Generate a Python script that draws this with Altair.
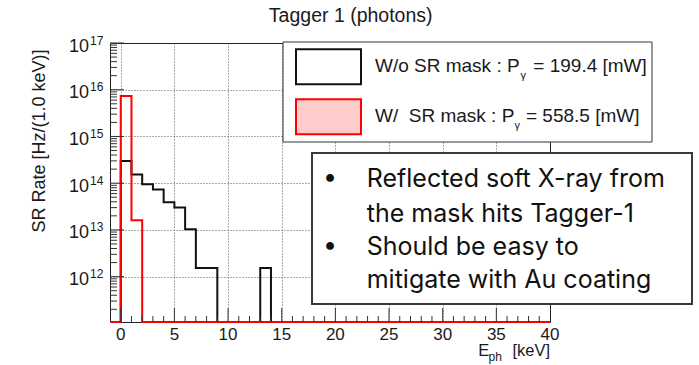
import altair as alt
import pandas as pd

# ---- histogram contents: 1 keV bins, lower edges -1 ... 39 keV ----
bin_lo = [-1, 0, 1, 2, 3, 4, 5, 6, 7, 8, 9, 10, 11, 12, 13, 14, 15, 16, 17, 18, 19,
          20, 21, 22, 23, 24, 25, 26, 27, 28, 29, 30, 31, 32, 33, 34, 35, 36, 37, 38, 39]
x_max = 40

# without SR mask
rate_nomask = [0, 2.99e14, 1.53e14, 9.5e13, 7.3e13, 3.9e13, 3.0e13, 1.03e13, 1.53e12, 1.53e12,
               0, 0, 0, 0, 1.53e12, 0, 0, 0, 0, 0, 0,
               0, 0, 0, 0, 0, 0, 0, 0, 0, 0, 0, 0, 0, 0, 0, 0, 0, 0, 0, 0]
# with SR mask
rate_mask = [0, 7.35e15, 1.61e13, 0, 0, 0, 0, 0, 0, 0,
             0, 0, 0, 0, 0, 0, 0, 0, 0, 0, 0,
             0, 0, 0, 0, 0, 0, 0, 0, 0, 0, 0, 0, 0, 0, 0, 0, 0, 0, 0, 0]

x_ticks_major = [0, 5, 10, 15, 20, 25, 30, 35, 40]
y_exponents = [12, 13, 14, 15, 16, 17]

title = "Tagger 1 (photons)"
y_title = "SR Rate [Hz/(1.0 keV)]"
legend_rows = [
    ("W/o SR mask : P", "= 199.4 [mW]"),
    ("W/\u00a0\u00a0SR mask : P", "= 558.5 [mW]"),
]
note_lines = [
    "Reflected soft X-ray from",
    "the mask hits Tagger-1",
    "Should be easy to",
    "mitigate with Au coating",
]

# ---- geometry ----
W, H = 440, 279
Y_MIN, Y_MAX = 1.07e11, 1e17
RED = "#ff0000"
PINK = "#ffcccc"
INK = "#1a1a1a"
ROOT_FONT = "Liberation Sans"


def step_frame(vals):
    xs = bin_lo + [x_max]
    ys = vals + [vals[-1]]
    return pd.DataFrame({"e": xs, "r": [max(v, Y_MIN) for v in ys]})


xs = alt.Scale(domain=[-1, 40], nice=False, zero=False)
ys = alt.Scale(type="log", domain=[Y_MIN, Y_MAX], nice=False)

x_axis = alt.Axis(values=[0, 5, 10, 15, 20, 25, 30, 35], labels=False, ticks=False,
                  domain=False, title=None, grid=True, gridDash=[1, 2],
                  gridColor="#555555", gridWidth=1)
y_axis = alt.Axis(values=[1e12, 1e13, 1e14, 1e15, 1e16], labels=False, ticks=False,
                  domain=False, title=None, grid=True, gridDash=[1, 2],
                  gridColor="#555555", gridWidth=1)

df_nomask = step_frame(rate_nomask)
df_mask = step_frame(rate_mask)

base_grid = alt.Chart(df_nomask).mark_line(opacity=0).encode(
    x=alt.X("e:Q", scale=xs, axis=x_axis),
    y=alt.Y("r:Q", scale=ys, axis=y_axis),
)

red_fill = alt.Chart(df_mask).mark_area(interpolate="step-after", color=PINK).encode(
    x=alt.X("e:Q", scale=xs), y=alt.Y("r:Q", scale=ys), y2=alt.value(H), order="e:Q"
)
black_line = alt.Chart(df_nomask).mark_line(
    interpolate="step-after", color="#111111", strokeWidth=2
).encode(x=alt.X("e:Q", scale=xs), y=alt.Y("r:Q", scale=ys), order="e:Q")
red_line = alt.Chart(df_mask).mark_line(
    interpolate="step-after", color=RED, strokeWidth=2
).encode(x=alt.X("e:Q", scale=xs), y=alt.Y("r:Q", scale=ys), order="e:Q")

# ---- inside ticks (ROOT style) ----
y_major_v = [10.0 ** e for e in y_exponents]
y_minor_v = [m * 10.0 ** e for e in range(11, 17) for m in range(2, 10)
             if Y_MIN <= m * 10.0 ** e <= Y_MAX]
x_minor_v = [v for v in range(0, 40) if v % 5 != 0]

tick_col = "#333333"
y_major_ticks = alt.Chart(pd.DataFrame({"v": y_major_v})).mark_rule(color=tick_col).encode(
    y=alt.Y("v:Q", scale=ys), x=alt.value(0), x2=alt.value(14))
y_minor_ticks = alt.Chart(pd.DataFrame({"v": y_minor_v})).mark_rule(color=tick_col).encode(
    y=alt.Y("v:Q", scale=ys), x=alt.value(0), x2=alt.value(7))
x_major_ticks = alt.Chart(pd.DataFrame({"v": x_ticks_major[:-1]})).mark_rule(color=tick_col).encode(
    x=alt.X("v:Q", scale=xs), y=alt.value(H), y2=alt.value(H - 14))
x_minor_ticks = alt.Chart(pd.DataFrame({"v": x_minor_v})).mark_rule(color=tick_col).encode(
    x=alt.X("v:Q", scale=xs), y=alt.value(H), y2=alt.value(H - 6))

# ---- tick labels ----
x_labels = alt.Chart(pd.DataFrame({"v": x_ticks_major, "t": [str(v) for v in x_ticks_major]})).mark_text(
    font=ROOT_FONT, fontSize=17, color=INK, align="center", baseline="alphabetic"
).encode(x=alt.X("v:Q", scale=xs), y=alt.value(H + 17.5), text="t:N")

ylab_df = pd.DataFrame({"v": y_major_v, "t": [str(e) for e in y_exponents]})
y_lab_base = alt.Chart(ylab_df).mark_text(
    font=ROOT_FONT, fontSize=18, color=INK, align="right", baseline="alphabetic", dy=8.5
).encode(y=alt.Y("v:Q", scale=ys), x=alt.value(-21), text=alt.value("10"))
y_lab_exp = alt.Chart(ylab_df).mark_text(
    font=ROOT_FONT, fontSize=12, color=INK, align="left", baseline="alphabetic", dy=1.5
).encode(y=alt.Y("v:Q", scale=ys), x=alt.value(-20), text="t:N")

one = pd.DataFrame({"k": [0]})


def txt(s, x, y, size, font=ROOT_FONT, align="left", angle=0, baseline="alphabetic", color=INK):
    kw = dict(font=font, fontSize=size, color=color, align=align, baseline=baseline, text=s)
    if angle:
        kw["angle"] = angle
    return alt.Chart(one).mark_text(**kw).encode(x=alt.value(x), y=alt.value(y))


def box(x1, x2, y1, y2, fill, stroke, sw):
    return alt.Chart(one).mark_rect(fill=fill, stroke=stroke, strokeWidth=sw).encode(
        x=alt.value(x1), x2=alt.value(x2), y=alt.value(y1), y2=alt.value(y2))


titles = [
    txt(title, 240.7, -21.3, 19.5, align="center"),
    txt(y_title, -70.5, 98, 18, align="center", angle=270, baseline="middle"),
    txt("E", 368.3, 313, 16.5),
    txt("ph", 378.5, 317.5, 12),
    txt("[keV]", 440, 313, 16.5, align="right"),
]

legend = [
    box(173, 542, -1, 99, "white", "#333333", 1),
    box(186, 251, 6.3, 41.3, "white", "#111111", 2),
    box(186, 251, 56.3, 91.3, PINK, RED, 2),
    txt(legend_rows[0][0], 265, 28.7, 19),
    txt("\u03b3", 410.5, 35.5, 11),
    txt(legend_rows[0][1], 423.3, 28.7, 19),
    txt(legend_rows[1][0], 265, 78.7, 19),
    txt("\u03b3", 404.5, 85.5, 11),
    txt(legend_rows[1][1], 416, 78.7, 19),
]

NOTE_FONT = "Inter"
note_baselines = [144.3, 178.7, 212, 245.3]
note = [box(202, 582, 110, 261, "white", "#3a3a3a", 2)]
for s, yb in zip(note_lines, note_baselines):
    note.append(txt(s, 256.7, yb, 25, font=NOTE_FONT, color="#111111"))
note.append(txt("\u2022", 220, note_baselines[0] - 2.5, 25, font=NOTE_FONT, align="center", color="#111111"))
note.append(txt("\u2022", 220, note_baselines[2] - 2.5, 25, font=NOTE_FONT, align="center", color="#111111"))

chart = alt.layer(
    base_grid, red_fill, black_line, red_line,
    y_major_ticks, y_minor_ticks, x_major_ticks, x_minor_ticks,
    x_labels, y_lab_base, y_lab_exp,
    *titles, *legend, *note,
).properties(
    width=W, height=H,
    autosize=alt.AutoSizeParams(type="none"),
    padding={"left": 110, "top": 43, "right": 149, "bottom": 43},
    background="white",
).configure_view(stroke="#222222", strokeWidth=1)

chart.save("out.html", embed_options={"renderer": "svg", "actions": False})
